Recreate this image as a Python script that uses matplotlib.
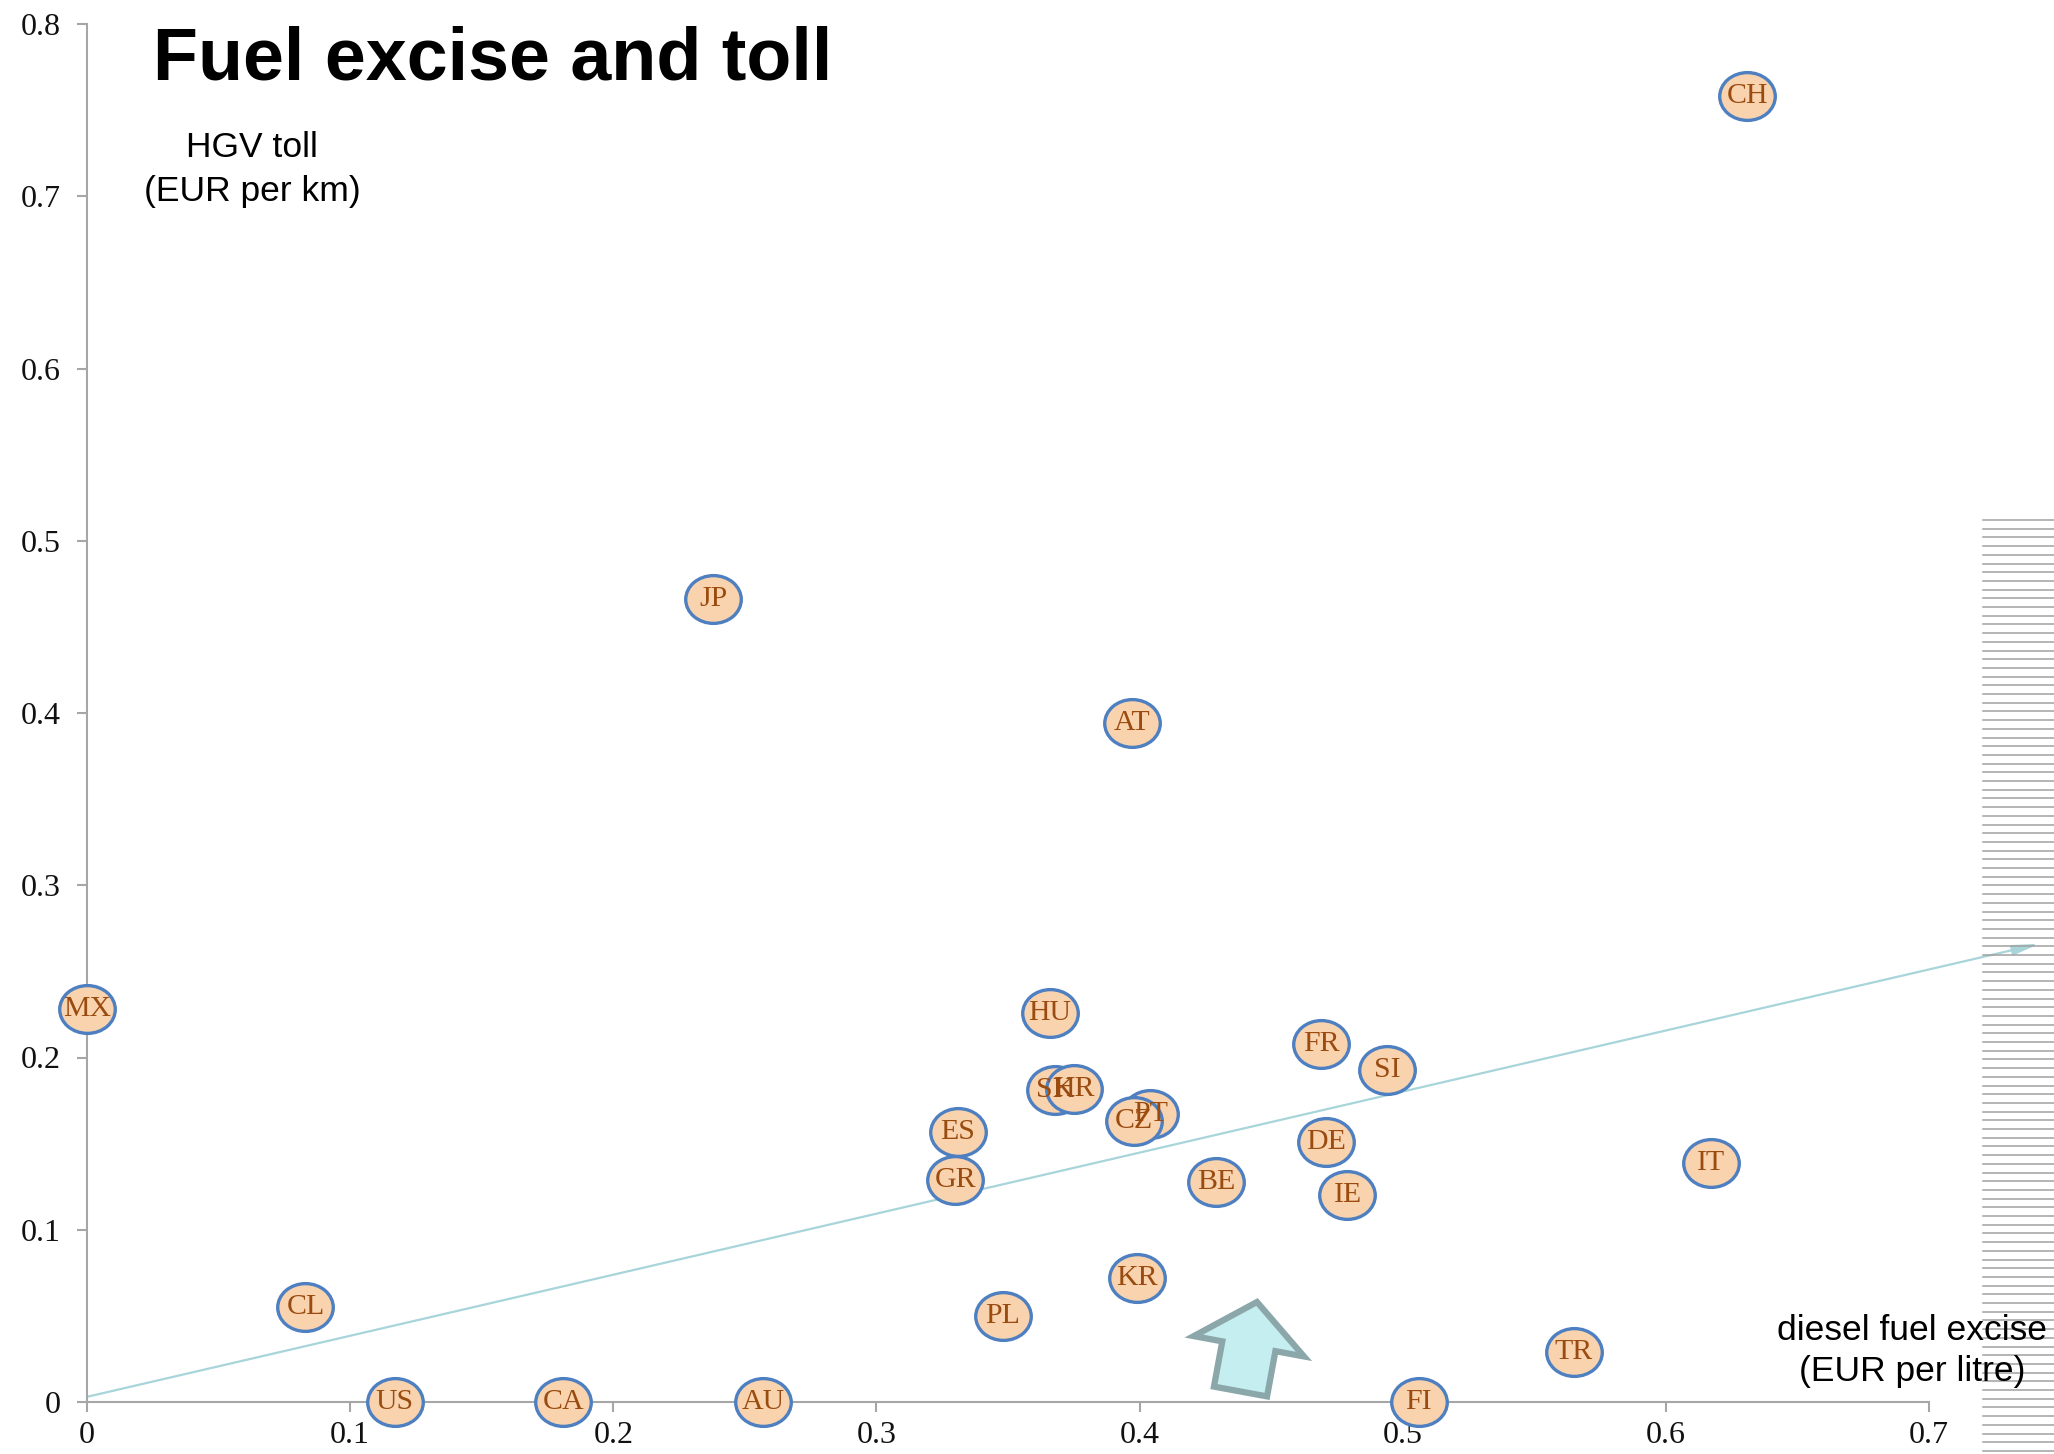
import numpy as np
import matplotlib
matplotlib.use("Agg")
import matplotlib.pyplot as plt
from matplotlib.path import Path
from matplotlib.patches import FancyArrow
from matplotlib.lines import Line2D
import matplotlib.transforms as mtransforms

# country codes, diesel fuel excise (EUR/litre), HGV toll (EUR/km)
codes = ["CH", "JP", "AT", "MX", "HU", "FR", "SI", "SK", "HR", "PT", "CZ", "ES",
         "DE", "GR", "BE", "IE", "IT", "KR", "PL", "CL", "TR", "US", "CA", "AU", "FI"]
excise = [0.631, 0.238, 0.397, 0.000, 0.366, 0.469, 0.494, 0.368, 0.375, 0.404, 0.398, 0.331,
          0.471, 0.330, 0.429, 0.479, 0.617, 0.399, 0.348, 0.083, 0.565, 0.117, 0.181, 0.257, 0.506]
toll = [0.758, 0.466, 0.394, 0.228, 0.226, 0.208, 0.193, 0.181, 0.182, 0.167, 0.163, 0.157,
        0.151, 0.129, 0.128, 0.120, 0.139, 0.072, 0.050, 0.055, 0.029, 0.0, 0.0, 0.0, 0.0]

x_ticks = [0, 0.1, 0.2, 0.3, 0.4, 0.5, 0.6, 0.7]
x_labels = ["0", "0.1", "0.2", "0.3", "0.4", "0.5", "0.6", "0.7"]
y_ticks = [0, 0.1, 0.2, 0.3, 0.4, 0.5, 0.6, 0.7, 0.8]
y_labels = ["0", "0.1", "0.2", "0.3", "0.4", "0.5", "0.6", "0.7", "0.8"]

# trend arrow (start and end of the drawn line)
trend_start = (0.0, 0.003)
trend_end = (0.742, 0.266)

W, H = 2054, 1454
fig = plt.figure(figsize=(W / 100, H / 100), dpi=100)
ax = fig.add_axes([87 / W, 52 / H, 1842 / W, 1378 / H])
ax.set_xlim(0, 0.7)
ax.set_ylim(0, 0.8)

grey = "#a6a6a6"
for s in ["top", "right"]:
    ax.spines[s].set_visible(False)
for s in ["left", "bottom"]:
    ax.spines[s].set_color(grey)
    ax.spines[s].set_linewidth(1.5)

serif = ["Liberation Serif", "DejaVu Serif"]
ax.set_xticks(x_ticks, x_labels)
ax.set_yticks(y_ticks, y_labels)
ax.tick_params(axis="both", direction="out", length=7, width=1.5, color=grey,
               labelsize=23, labelfontfamily="Liberation Serif", labelcolor="#111111")
ax.tick_params(axis="x", pad=7)
ax.tick_params(axis="y", pad=12)

# trend line with arrow head
ax.annotate("", xy=trend_end, xytext=trend_start, annotation_clip=False,
            arrowprops=dict(arrowstyle="-|>,head_length=1.6,head_width=0.3",
                            color="#a8d5da", lw=1.6, shrinkA=0, shrinkB=0), zorder=2)

# ellipse marker
circ = Path.unit_circle()
ell = Path(circ.vertices * np.array([1.0, 0.86]), circ.codes)
ax.scatter(excise, toll, marker=ell, s=1600, facecolor="#f9d3ae", edgecolor="#4d7fc1",
           linewidths=2.4, clip_on=False, zorder=3)
for c, xv, yv in zip(codes, excise, toll):
    ax.text(xv, yv, c, ha="center", va="center", fontfamily=serif, fontsize=21.5,
            color="#9a4b10", zorder=4, clip_on=False)

# titles and axis captions
sans = ["Liberation Sans", "DejaVu Sans"]
fig.text(153 / W, 1 - 80 / H, "Fuel excise and toll", fontfamily=sans, fontsize=53,
         fontweight="bold", ha="left", va="baseline")
fig.text(252 / W, 1 - 157 / H, "HGV toll", fontfamily=sans, fontsize=25.5,
         ha="center", va="baseline")
fig.text(252 / W, 1 - 201 / H, "(EUR per km)", fontfamily=sans, fontsize=25.5,
         ha="center", va="baseline")
fig.text(1912 / W, 1 - 1340 / H, "diesel fuel excise", fontfamily=sans, fontsize=25.5,
         ha="center", va="baseline", zorder=5)
fig.text(1912 / W, 1 - 1381 / H, "(EUR per litre)", fontfamily=sans, fontsize=25.5,
         ha="center", va="baseline", zorder=5)

# block arrow pointing up and right (pixel space)
big = FancyArrow(1240.5, 62.5, 16.5, 89.5, width=54, head_width=112, head_length=45,
                 length_includes_head=True, facecolor="#c4eef0", edgecolor="#8ba7aa",
                 linewidth=4.5, joinstyle="miter", transform=mtransforms.IdentityTransform())
fig.add_artist(big)

# striped strip at right edge
for yy in np.arange(520, H, 8.7):
    fig.add_artist(Line2D([1983 / W, 1.0], [1 - yy / H, 1 - yy / H], color="#a0a0a0",
                          lw=1.1, zorder=1))

fig.savefig("out.png", dpi=100)
